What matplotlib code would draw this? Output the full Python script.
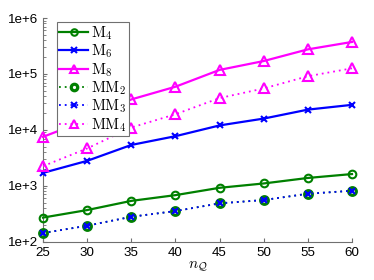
import matplotlib
matplotlib.use("Agg")
import matplotlib.pyplot as plt
from matplotlib.ticker import LogLocator, NullFormatter

nq = [25, 30, 35, 40, 45, 50, 55, 60]
M4 = [270, 368, 537, 680, 920, 1100, 1380, 1620]
M6 = [1700, 2790, 5370, 7700, 12000, 15900, 23000, 28000]
M8 = [7500, 15000, 35000, 59000, 118000, 170000, 275000, 373000]
MM2 = [143, 193, 279, 353, 485, 556, 720, 815]
MM3 = [143, 193, 279, 353, 485, 556, 720, 815]
MM4 = [2240, 4650, 11000, 19000, 37000, 55000, 91000, 126000]

ytick_vals = [1e2, 1e3, 1e4, 1e5, 1e6]
ytick_labels = ["1e+2", "1e+3", "1e+4", "1e+5", "1e+6"]
xtick_vals = [25, 30, 35, 40, 45, 50, 55, 60]

plt.rcParams['mathtext.fontset'] = 'cm'
plt.rcParams['font.family'] = ['Liberation Sans', 'DejaVu Sans']

fig = plt.figure(figsize=(3.74, 2.8), dpi=100)
ax = fig.add_axes([43/374, 1 - 241.7/280, (352-43)/374, (241.7-18)/280])

green = '#008000'
blue = '#0000ff'
mag = '#ff00ff'
lw = 1.6
dlw = 1.3
dots = (0, (1, 2.2))
ms = 5.5
mew = 1.5

ax.plot(nq, M4, '-', color=green, lw=lw, marker='o', ms=ms, mfc='none', mew=mew, label=r'$\mathrm{M}_4$')
ax.plot(nq, M6, '-', color=blue, lw=lw, marker='x', ms=4.5, mew=mew, label=r'$\mathrm{M}_6$')
ax.plot(nq, M8, '-', color=mag, lw=lw, marker='^', ms=ms+1, mfc='none', mew=mew, label=r'$\mathrm{M}_8$')
ax.plot(nq, MM2, color=green, lw=dlw, ls=dots, marker='o', ms=ms, mfc='none', mew=mew+0.8, label=r'$\mathrm{MM}_2$')
ax.plot(nq, MM3, color=blue, lw=dlw, ls=dots, marker='x', ms=4.5, mew=mew, label=r'$\mathrm{MM}_3$')
ax.plot(nq, MM4, color=mag, lw=dlw, ls=dots, marker='^', ms=ms+1, mfc='none', mew=mew, label=r'$\mathrm{MM}_4$')

ax.set_yscale('log')
ax.set_xlim(25, 60)
ax.set_ylim(1e2, 1e6)
ax.set_yticks(ytick_vals)
ax.set_yticklabels(ytick_labels)
ax.yaxis.set_minor_locator(LogLocator(base=10, subs=range(2, 10)))
ax.yaxis.set_minor_formatter(NullFormatter())
ax.set_xticks(xtick_vals)
ax.set_xticklabels([str(v) for v in xtick_vals])

for s in ['top', 'right']:
    ax.spines[s].set_visible(False)
for s in ['left', 'bottom']:
    ax.spines[s].set_color('#707070')
    ax.spines[s].set_linewidth(0.8)
    ax.spines[s].set_zorder(0)
ax.tick_params(which='both', direction='in', colors='#707070', labelcolor='black', labelsize=9.6)
ax.tick_params(which='major', length=3, width=0.8)
ax.tick_params(which='minor', length=1.8, width=0.6)
ax.tick_params(axis='x', pad=4)
for ln in ax.lines:
    ln.set_clip_on(False)

ax.set_xlabel(r'$n_{\mathcal{Q}}$', fontsize=11, labelpad=0)

leg = ax.legend(loc='upper left', bbox_to_anchor=((57-43)/309, 1 - (22-18)/223.7),
                fontsize=11, frameon=True, fancybox=False, edgecolor='#707070',
                framealpha=1, markerscale=0.85,
                handlelength=1.9, handletextpad=0.2, labelspacing=0.05,
                borderpad=0.15, borderaxespad=0)
leg.get_frame().set_linewidth(0.8)
leg.set_zorder(10)

fig.savefig('out.png', dpi=100)
